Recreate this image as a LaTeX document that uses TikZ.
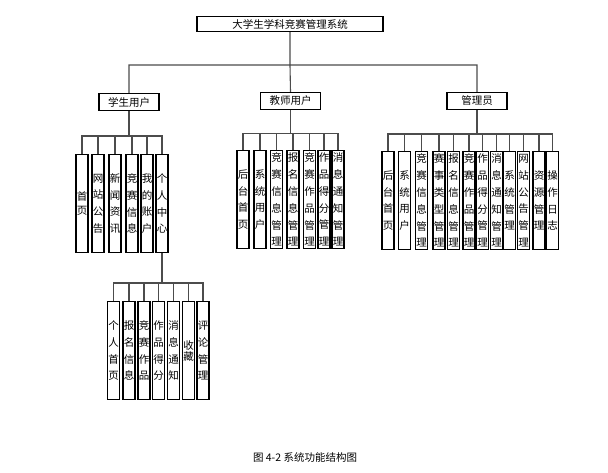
\documentclass[tikz,border=0pt]{standalone}
\usepackage{fontspec}
\newfontfamily\cjk{Noto Sans CJK SC}
\usetikzlibrary{positioning}

\begin{document}
\begin{tikzpicture}[x=1pt,y=-1pt,
    font=\cjk\fontsize{10.5}{16.8}\selectfont,
    link/.style={draw=black!70,line width=1.1pt},
    sysbox/.style={rectangle,draw=black,line width=1.2pt,minimum width=186pt,
                   minimum height=15pt,inner sep=0pt},
    role/.style={rectangle,draw=black,line width=1.2pt,minimum width=60pt,
                 minimum height=17pt,inner sep=0pt},
    leaf/.style={rectangle,draw=black,line width=1.3pt,minimum width=12pt,
                 minimum height=98pt,inner sep=0pt,align=center,anchor=north}]
  \useasboundingbox (0,0) rectangle (608,473);

  % top level
  \node[sysbox] (sys) at (290,24) {大学生学科竞赛管理系统};

  \node[role] (stu) at (129,102)   {学生用户};
  \node[role] (tea) at (290.5,101) {教师用户};
  \node[role] (adm) at (477,101)   {管理员};

  \coordinate (sysbus) at (290,65);
  \draw[link] (sys.south) -- (sysbus) -| (stu.north)
              (sysbus) -| (adm.north) (sysbus) -- (tea.north);

  % student
  \node[leaf] (s1) at (82,154)  {首\\[-3.5pt]页};
  \node[leaf] (s2) at (98,154)  {网\\站\\公\\告};
  \node[leaf] (s3) at (115,154) {新\\闻\\资\\讯};
  \node[leaf] (s4) at (132,154) {竞\\赛\\信\\息};
  \node[leaf] (s5) at (147,154) {我\\的\\账\\户};
  \node[leaf] (s6) at (162,154) {个\\人\\中\\心};

  \coordinate (stubus) at (129,136);
  \draw[link] (stu.south) -- (stubus)
              (stubus) -| (s1.north) (stubus) -| (s2.north)
              (stubus) -| (s3.north) (stubus) -| (s4.north)
              (stubus) -| (s5.north) (stubus) -| (s6.north);

  % personal centre
  \node[leaf] (p1) at (113.5,301) {个\\人\\首\\页};
  \node[leaf] (p2) at (129,301)   {报\\名\\信\\息};
  \node[leaf] (p3) at (144,301)   {竞\\赛\\作\\品};
  \node[leaf] (p4) at (158.5,301) {作\\品\\得\\分};
  \node[leaf] (p5) at (173.5,301) {消\\息\\通\\知};
  \node[leaf] (p6) at (188.5,301) {收\\[-6pt]藏};
  \node[leaf] (p7) at (203,301)   {评\\论\\管\\理};

  \coordinate (perbus) at (162,283);
  \draw[link] (s6.south) -- (perbus)
              (perbus) -| (p1.north) (perbus) -| (p2.north)
              (perbus) -| (p3.north) (perbus) -| (p4.north)
              (perbus) -| (p5.north) (perbus) -| (p6.north)
              (perbus) -| (p7.north);

  % teacher
  \node[leaf] (t1) at (243,150)   {后\\台\\首\\页};
  \node[leaf] (t2) at (260,150)   {系\\统\\用\\户};
  \node[leaf] (t3) at (276.5,150) {竞\\赛\\信\\息\\管\\理};
  \node[leaf] (t4) at (293,150)   {报\\名\\信\\息\\管\\理};
  \node[leaf] (t5) at (309.5,150) {竞\\赛\\作\\品\\管\\理};
  \node[leaf] (t6) at (324,150)   {作\\品\\得\\分\\管\\理};
  \node[leaf] (t7) at (338,150)   {消\\息\\通\\知\\管\\理};

  \coordinate (teabus) at (290.5,133.5);
  \draw[link] (tea.south) -- (teabus)
              (teabus) -| (t1.north) (teabus) -| (t2.north)
              (teabus) -| (t3.north) (teabus) -| (t4.north)
              (teabus) -| (t5.north) (teabus) -| (t6.north)
              (teabus) -| (t7.north);

  % admin
  \node[leaf] (a1)  at (388,151)   {后\\台\\首\\页};
  \node[leaf] (a2)  at (404.5,151) {系\\统\\用\\户};
  \node[leaf] (a3)  at (421.5,151) {竞\\赛\\信\\息\\管\\理};
  \node[leaf] (a4)  at (439,151)   {赛\\事\\类\\型\\管\\理};
  \node[leaf] (a5)  at (453.5,151) {报\\名\\信\\息\\管\\理};
  \node[leaf] (a6)  at (469,151)   {竞\\赛\\作\\品\\管\\理};
  \node[leaf] (a7)  at (482.5,151) {作\\品\\得\\分\\管\\理};
  \node[leaf] (a8)  at (496.5,151) {消\\息\\通\\知\\管\\理};
  \node[leaf] (a9)  at (509.5,151) {系\\统\\管\\理};
  \node[leaf] (a10) at (523.5,151) {网\\站\\公\\告\\管\\理};
  \node[leaf] (a11) at (539,151)   {资\\源\\管\\理};
  \node[leaf] (a12) at (552.5,151) {操\\作\\日\\志};

  \coordinate (admbus) at (477,134);
  \draw[link] (adm.south) -- (admbus)
              (admbus) -| (a1.north) (admbus) -| (a2.north)
              (admbus) -| (a3.north) (admbus) -| (a4.north)
              (admbus) -| (a5.north) (admbus) -| (a6.north)
              (admbus) -| (a7.north) (admbus) -| (a8.north)
              (admbus) -| (a9.north) (admbus) -| (a10.north)
              (admbus) -| (a11.north) (admbus) -| (a12.north);

  \node (cap) at (305,457) {图 4-2 系统功能结构图};
\end{tikzpicture}
\end{document}
